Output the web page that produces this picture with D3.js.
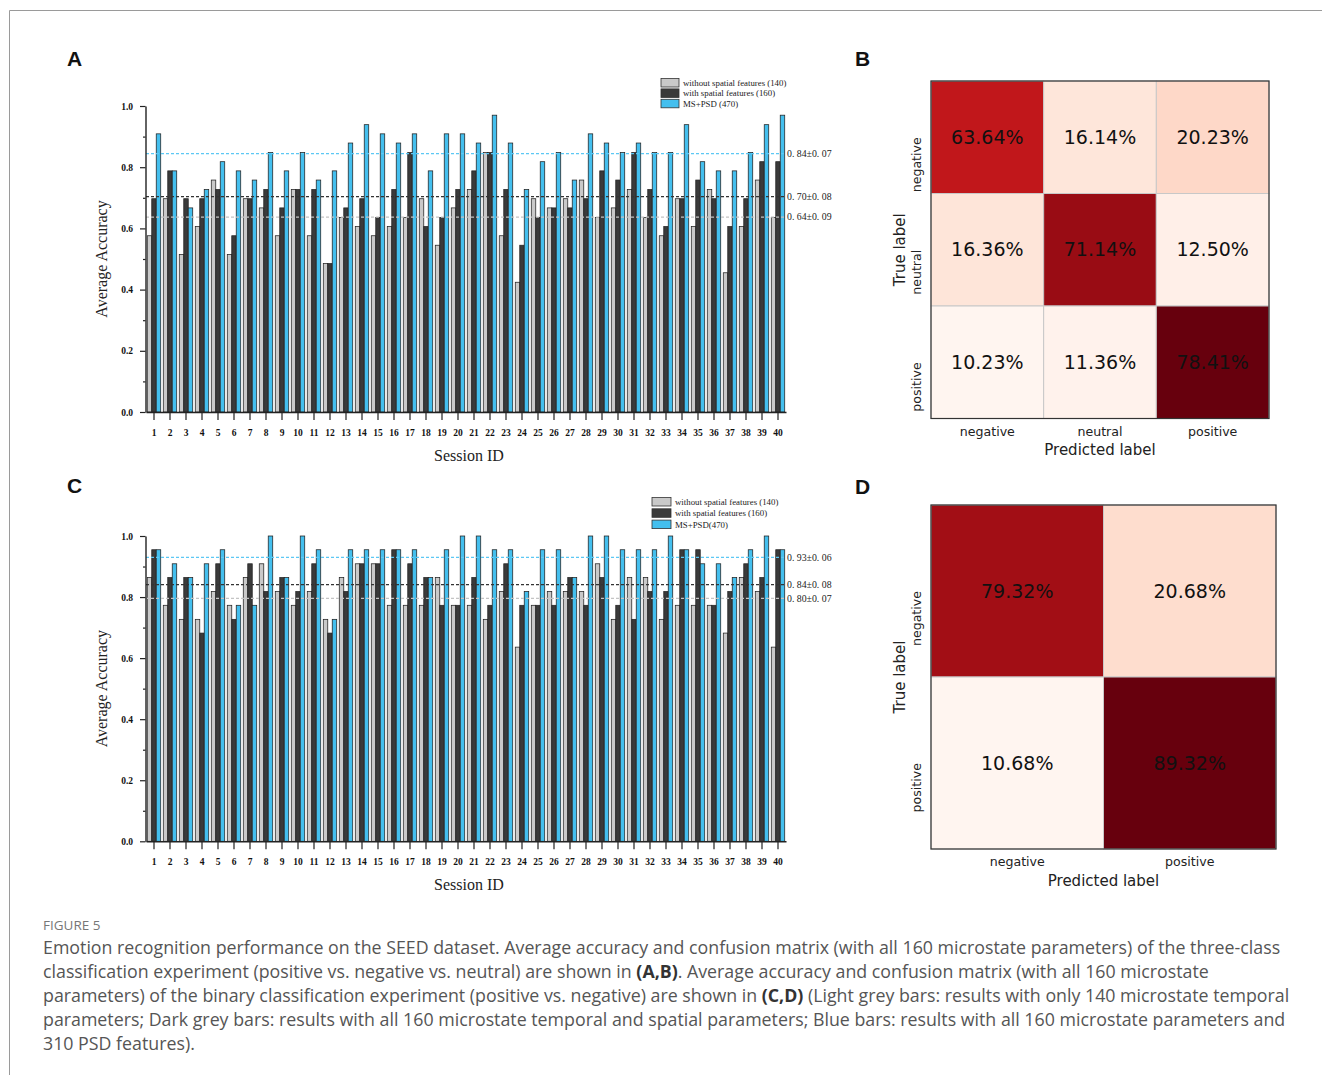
<!DOCTYPE html>
<html>
<head>
<meta charset="utf-8">
<script src="https://cdn.jsdelivr.net/npm/d3@7"></script>
<style>
  body { margin: 0; background: #fff; }
  svg { display: block; }
</style>
</head>
<body>
<div id="chart"></div>
<script>
// ---- data ----
var sessions = d3.range(1, 41);

// panel A: three-class accuracy per session
var accA_without = [0.576,0.697,0.515,0.606,0.758,0.515,0.697,0.667,0.576,0.727,
                    0.576,0.485,0.636,0.606,0.576,0.606,0.636,0.697,0.545,0.667,
                    0.727,0.848,0.576,0.424,0.697,0.667,0.697,0.758,0.636,0.667,
                    0.727,0.636,0.576,0.697,0.606,0.727,0.455,0.606,0.758,0.636];
var accA_with    = [0.697,0.788,0.697,0.697,0.727,0.576,0.697,0.727,0.667,0.727,
                    0.727,0.485,0.667,0.697,0.636,0.727,0.848,0.606,0.636,0.727,
                    0.788,0.848,0.727,0.545,0.636,0.667,0.667,0.697,0.788,0.758,
                    0.848,0.727,0.606,0.697,0.758,0.697,0.606,0.697,0.818,0.818];
var accA_psd     = [0.909,0.788,0.667,0.727,0.818,0.788,0.758,0.848,0.788,0.848,
                    0.758,0.788,0.879,0.939,0.909,0.879,0.909,0.788,0.909,0.909,
                    0.879,0.970,0.879,0.727,0.818,0.848,0.758,0.909,0.879,0.848,
                    0.879,0.848,0.848,0.939,0.818,0.788,0.788,0.848,0.939,0.970];

// panel C: binary accuracy per session
var accC_without = [0.864,0.773,0.727,0.727,0.818,0.773,0.864,0.909,0.818,0.773,
                    0.818,0.727,0.864,0.909,0.909,0.773,0.773,0.773,0.864,0.773,
                    0.773,0.727,0.818,0.636,0.773,0.818,0.818,0.818,0.909,0.727,
                    0.864,0.864,0.727,0.773,0.773,0.773,0.682,0.864,0.818,0.636];
var accC_with    = [0.955,0.864,0.864,0.682,0.909,0.727,0.909,0.818,0.864,0.818,
                    0.909,0.682,0.818,0.909,0.909,0.955,0.909,0.864,0.773,0.773,
                    0.864,0.773,0.909,0.773,0.773,0.773,0.864,0.773,0.864,0.773,
                    0.727,0.818,0.818,0.955,0.955,0.773,0.818,0.909,0.864,0.955];
var accC_psd     = [0.955,0.909,0.864,0.909,0.955,0.773,0.773,1.000,0.864,1.000,
                    0.955,0.727,0.955,0.955,0.955,0.955,0.955,0.864,0.955,1.000,
                    1.000,0.955,0.955,0.818,0.955,0.955,0.864,1.000,1.000,0.955,
                    0.955,0.955,1.000,0.955,0.909,0.909,0.864,0.955,1.000,0.955];

var legendA = ["without spatial features (140)", "with spatial features (160)", "MS+PSD (470)"];
var legendC = ["without spatial features (140)", "with spatial features (160)", "MS+PSD(470)"];
var meanLabelsA = ["0. 64\u00b10. 09", "0. 70\u00b10. 08", "0. 84\u00b10. 07"];
var meanLabelsC = ["0. 80\u00b10. 07", "0. 84\u00b10. 08", "0. 93\u00b10. 06"];

var cmLabelsB = ["negative", "neutral", "positive"];
var cmB = [[63.64, 16.14, 20.23],
           [16.36, 71.14, 12.50],
           [10.23, 11.36, 78.41]];
var cmLabelsD = ["negative", "positive"];
var cmD = [[79.32, 20.68],
           [10.68, 89.32]];

var captionLines = [
  [["Emotion recognition performance on the SEED dataset. Average accuracy and confusion matrix (with all 160 microstate parameters) of the three-class", false]],
  [["classification experiment (positive vs. negative vs. neutral) are shown in ", false], ["(A,B)", true], [". Average accuracy and confusion matrix (with all 160 microstate", false]],
  [["parameters) of the binary classification experiment (positive vs. negative) are shown in ", false], ["(C,D)", true], [" (Light grey bars: results with only 140 microstate temporal", false]],
  [["parameters; Dark grey bars: results with all 160 microstate temporal and spatial parameters; Blue bars: results with all 160 microstate parameters and", false]],
  [["310 PSD features).", false]]
];

var barFill = ["#c9c9c9", "#3a3a3a", "#44bfee"];
var meanStroke = ["#c4c4c4", "#333333", "#5cc8f4"];

var svg = d3.select("#chart").append("svg")
    .attr("width", 1322).attr("height", 1075)
    .style("background", "#fff");

// page frame
svg.append("path")
    .attr("d", "M9.5,1075V10.5H1322")
    .attr("fill", "none").attr("stroke", "#9a9a9a").attr("stroke-width", 1);

function panelLetter(txt, x, y)
{
    svg.append("text").attr("x", x).attr("y", y).text(txt)
        .style("font-family", "'Liberation Sans', Arial, sans-serif")
        .style("font-weight", "bold").style("font-size", "21px").attr("fill", "#111");
}

function barPanel(cfg)
{
    var g = svg.append("g");
    var serif = "'Liberation Serif', 'Times New Roman', serif";

    var x = d3.scaleBand().domain(sessions).range([146, 786])
        .paddingInner(0.16).paddingOuter(0.08);
    var xs = d3.scaleBand().domain([0, 1, 2]).range([0, x.bandwidth()]);
    var y = d3.scaleLinear().domain([0, 1]).range([cfg.y0, cfg.y1]);

    // bars
    cfg.series.forEach(function(vals, i) {
        g.append("g").selectAll("rect").data(vals).enter().append("rect")
            .attr("x", function(d, j) { return x(sessions[j]) + xs(i); })
            .attr("y", function(d) { return y(d); })
            .attr("width", xs.bandwidth())
            .attr("height", function(d) { return y(0) - y(d); })
            .attr("fill", barFill[i])
            .attr("stroke", "#222").attr("stroke-width", 0.75);
    });

    // mean lines + labels
    cfg.series.forEach(function(vals, i) {
        var m = d3.mean(vals);
        g.append("line")
            .attr("x1", 146).attr("x2", 785)
            .attr("y1", y(m)).attr("y2", y(m))
            .attr("stroke", meanStroke[i]).attr("stroke-width", 1.2)
            .attr("stroke-dasharray", "3,2");
        g.append("text").attr("x", 787).attr("y", y(m)).attr("dy", "0.35em")
            .text(cfg.meanLabels[i])
            .style("font-family", serif).style("font-size", "9.8px").attr("fill", "#222");
    });

    // y axis (major + minor)
    g.append("g").attr("transform", "translate(145.5,0)")
        .call(d3.axisLeft(y).tickValues([0, 0.2, 0.4, 0.6, 0.8, 1.0])
            .tickFormat(d3.format(".1f")).tickSize(5.5).tickSizeOuter(0).tickPadding(7));
    g.append("g").attr("transform", "translate(145.5,0)")
        .call(d3.axisLeft(y).tickValues([0.1, 0.3, 0.5, 0.7, 0.9])
            .tickFormat("").tickSize(2.5).tickSizeOuter(0))
        .select(".domain").remove();

    // x axis
    g.append("g").attr("transform", "translate(0," + cfg.y0 + ")")
        .call(d3.axisBottom(x).tickSize(8).tickSizeOuter(0).tickPadding(9));

    g.selectAll(".domain").attr("stroke", "#222").attr("stroke-width", 1.4);
    g.selectAll(".tick line").attr("stroke", "#222").attr("stroke-width", 1.2);
    g.selectAll(".tick text")
        .style("font-family", serif).style("font-weight", "bold")
        .style("font-size", "9.5px").attr("fill", "#111");

    // axis titles
    g.append("text")
        .attr("transform", "translate(107," + ((cfg.y0 + cfg.y1) / 2) + ") rotate(-90)")
        .attr("text-anchor", "middle").text("Average Accuracy")
        .style("font-family", serif).style("font-size", "16px").attr("fill", "#222");
    g.append("text").attr("x", 469).attr("y", cfg.y0 + 49)
        .attr("text-anchor", "middle").text("Session ID")
        .style("font-family", serif).style("font-size", "16px").attr("fill", "#222");

    // legend
    var lg = g.append("g").attr("transform", "translate(" + cfg.legX + "," + cfg.legY + ")");
    cfg.legend.forEach(function(name, i) {
        lg.append("rect").attr("x", 0).attr("y", i * cfg.legStep)
            .attr("width", cfg.legW).attr("height", 8.5)
            .attr("fill", barFill[i]).attr("stroke", "#333").attr("stroke-width", 0.8);
        lg.append("text").attr("x", cfg.legW + 4).attr("y", i * cfg.legStep + 7.5)
            .text(name)
            .style("font-family", serif).style("font-size", "8.8px").attr("fill", "#222");
    });
}

function cmPanel(cfg)
{
    var g = svg.append("g");
    var sans = "'DejaVu Sans', sans-serif";
    var flat = [].concat.apply([], cfg.matrix);
    var color = d3.scaleSequential(d3.interpolateReds).domain(d3.extent(flat));

    var x = d3.scaleBand().domain(cfg.labels).range([cfg.x0, cfg.x0 + cfg.w]);
    var y = d3.scaleBand().domain(cfg.labels).range([cfg.y0, cfg.y0 + cfg.h]);

    cfg.matrix.forEach(function(row, r) {
        row.forEach(function(v, c) {
            g.append("rect")
                .attr("x", x(cfg.labels[c])).attr("y", y(cfg.labels[r]))
                .attr("width", x.bandwidth()).attr("height", y.bandwidth())
                .attr("fill", color(v)).attr("stroke", "#c8c8c8").attr("stroke-width", 1);
            g.append("text")
                .attr("x", x(cfg.labels[c]) + x.bandwidth() / 2)
                .attr("y", y(cfg.labels[r]) + y.bandwidth() / 2 + 6.5)
                .attr("text-anchor", "middle")
                .text(v.toFixed(2) + "%")
                .style("font-family", sans).style("font-size", "19px").attr("fill", "#111");
        });
    });
    g.append("rect").attr("x", cfg.x0).attr("y", cfg.y0)
        .attr("width", cfg.w).attr("height", cfg.h)
        .attr("fill", "none").attr("stroke", "#333").attr("stroke-width", 1.2);

    // tick labels
    cfg.labels.forEach(function(l) {
        g.append("text").attr("x", x(l) + x.bandwidth() / 2).attr("y", cfg.tickY)
            .attr("text-anchor", "middle").text(l)
            .style("font-family", sans).style("font-size", "12.6px").attr("fill", "#222");
        g.append("text")
            .attr("transform", "translate(920.5," + (y(l) + y.bandwidth() / 2) + ") rotate(-90)")
            .attr("text-anchor", "end").text(l)
            .style("font-family", sans).style("font-size", "12.6px").attr("fill", "#222");
    });

    g.append("text").attr("x", cfg.x0 + cfg.w / 2).attr("y", cfg.titleY)
        .attr("text-anchor", "middle").text("Predicted label")
        .style("font-family", sans).style("font-size", "15px").attr("fill", "#222");
    g.append("text")
        .attr("transform", "translate(904.5," + (cfg.y0 + cfg.h / 2) + ") rotate(-90)")
        .attr("text-anchor", "middle").text("True label")
        .style("font-family", sans).style("font-size", "15px").attr("fill", "#222");
}

// ---- panels ----
panelLetter("A", 67, 66);
panelLetter("B", 855, 66);
panelLetter("C", 67, 493);
panelLetter("D", 855, 494);

barPanel({
    series: [accA_without, accA_with, accA_psd],
    y0: 412, y1: 106,
    meanLabels: meanLabelsA,
    legend: legendA, legX: 661, legY: 78.5, legW: 18, legStep: 10.4
});
barPanel({
    series: [accC_without, accC_with, accC_psd],
    y0: 841.3, y1: 536,
    meanLabels: meanLabelsC,
    legend: legendC, legX: 652, legY: 497.5, legW: 19, legStep: 11.3
});

cmPanel({ matrix: cmB, labels: cmLabelsB, x0: 931, y0: 81, w: 338, h: 337.5, tickY: 435.5, titleY: 455 });
cmPanel({ matrix: cmD, labels: cmLabelsD, x0: 931, y0: 505, w: 345, h: 344, tickY: 865.5, titleY: 886 });

// ---- caption ----
svg.append("text").attr("x", 43).attr("y", 930).text("FIGURE 5")
    .style("font-family", "'Open Sans', sans-serif").style("font-size", "13.5px")
    .attr("fill", "#777");

captionLines.forEach(function(parts, i) {
    var t = svg.append("text").attr("x", 43).attr("y", 954 + i * 24)
        .style("font-family", "'Open Sans', sans-serif").style("font-size", "17.8px")
        .attr("fill", "#555");
    parts.forEach(function(p) {
        t.append("tspan").text(p[0])
            .style("font-weight", p[1] ? "bold" : "normal")
            .attr("fill", p[1] ? "#333" : "#555");
    });
});
</script>
</body>
</html>
